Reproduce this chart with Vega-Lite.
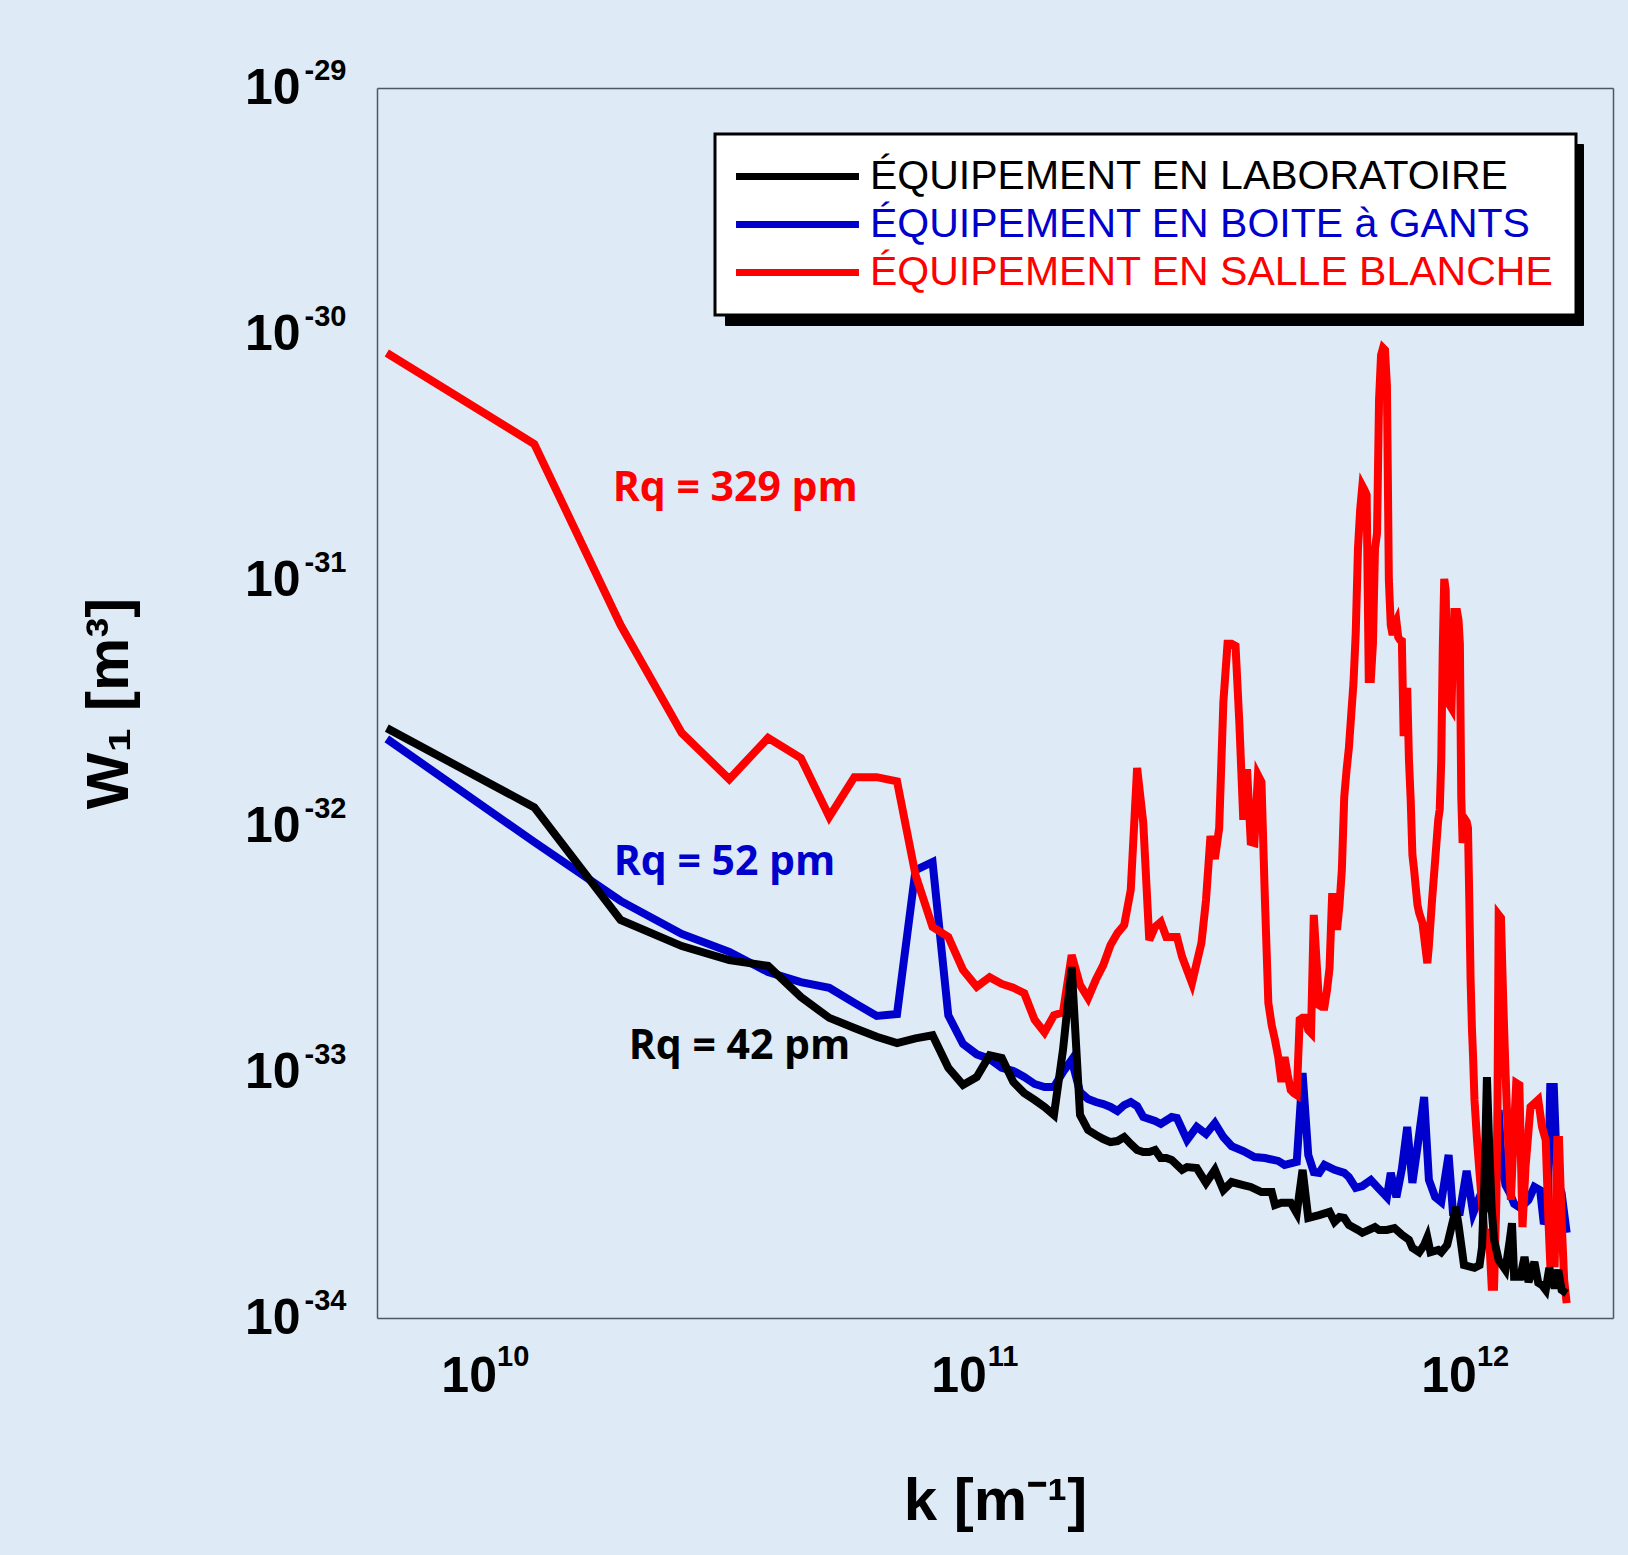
{
"$schema": "https://vega.github.io/schema/vega-lite/v6.json",
"width": 1236,
"height": 1230,
"autosize": {"type": "none"},
"padding": {"left": 377, "top": 88, "right": 15, "bottom": 237},
"background": "#deebf7",
"config": {"view": {"stroke": null}, "axis": {"grid": false}},
"data": {"values": [
{"s":"ÉQUIPEMENT EN BOITE à GANTS","k":6.283e9,"W":2.26e-32},
{"s":"ÉQUIPEMENT EN BOITE à GANTS","k":1.2566e10,"W":8.61e-33},
{"s":"ÉQUIPEMENT EN BOITE à GANTS","k":1.885e10,"W":4.96e-33},
{"s":"ÉQUIPEMENT EN BOITE à GANTS","k":2.513e10,"W":3.64e-33},
{"s":"ÉQUIPEMENT EN BOITE à GANTS","k":3.142e10,"W":3.08e-33},
{"s":"ÉQUIPEMENT EN BOITE à GANTS","k":3.770e10,"W":2.55e-33},
{"s":"ÉQUIPEMENT EN BOITE à GANTS","k":4.398e10,"W":2.32e-33},
{"s":"ÉQUIPEMENT EN BOITE à GANTS","k":5.027e10,"W":2.20e-33},
{"s":"ÉQUIPEMENT EN BOITE à GANTS","k":5.655e10,"W":1.91e-33},
{"s":"ÉQUIPEMENT EN BOITE à GANTS","k":6.283e10,"W":1.69e-33},
{"s":"ÉQUIPEMENT EN BOITE à GANTS","k":6.912e10,"W":1.72e-33},
{"s":"ÉQUIPEMENT EN BOITE à GANTS","k":7.540e10,"W":6.62e-33},
{"s":"ÉQUIPEMENT EN BOITE à GANTS","k":8.168e10,"W":7.14e-33},
{"s":"ÉQUIPEMENT EN BOITE à GANTS","k":8.796e10,"W":1.70e-33},
{"s":"ÉQUIPEMENT EN BOITE à GANTS","k":9.425e10,"W":1.30e-33},
{"s":"ÉQUIPEMENT EN BOITE à GANTS","k":1.0053e11,"W":1.18e-33},
{"s":"ÉQUIPEMENT EN BOITE à GANTS","k":1.0681e11,"W":1.13e-33},
{"s":"ÉQUIPEMENT EN BOITE à GANTS","k":1.131e11,"W":1.04e-33},
{"s":"ÉQUIPEMENT EN BOITE à GANTS","k":1.1938e11,"W":1.01e-33},
{"s":"ÉQUIPEMENT EN BOITE à GANTS","k":1.2566e11,"W":9.54e-34},
{"s":"ÉQUIPEMENT EN BOITE à GANTS","k":1.3195e11,"W":8.94e-34},
{"s":"ÉQUIPEMENT EN BOITE à GANTS","k":1.3823e11,"W":8.69e-34},
{"s":"ÉQUIPEMENT EN BOITE à GANTS","k":1.4451e11,"W":8.69e-34},
{"s":"ÉQUIPEMENT EN BOITE à GANTS","k":1.508e11,"W":1.00e-33},
{"s":"ÉQUIPEMENT EN BOITE à GANTS","k":1.5708e11,"W":1.12e-33},
{"s":"ÉQUIPEMENT EN BOITE à GANTS","k":1.6336e11,"W":8.29e-34},
{"s":"ÉQUIPEMENT EN BOITE à GANTS","k":1.6965e11,"W":7.77e-34},
{"s":"ÉQUIPEMENT EN BOITE à GANTS","k":1.7593e11,"W":7.55e-34},
{"s":"ÉQUIPEMENT EN BOITE à GANTS","k":1.8221e11,"W":7.41e-34},
{"s":"ÉQUIPEMENT EN BOITE à GANTS","k":1.885e11,"W":7.21e-34},
{"s":"ÉQUIPEMENT EN BOITE à GANTS","k":1.9478e11,"W":6.94e-34},
{"s":"ÉQUIPEMENT EN BOITE à GANTS","k":2.0106e11,"W":7.34e-34},
{"s":"ÉQUIPEMENT EN BOITE à GANTS","k":2.0735e11,"W":7.55e-34},
{"s":"ÉQUIPEMENT EN BOITE à GANTS","k":2.1363e11,"W":7.27e-34},
{"s":"ÉQUIPEMENT EN BOITE à GANTS","k":2.1991e11,"W":6.56e-34},
{"s":"ÉQUIPEMENT EN BOITE à GANTS","k":2.3248e11,"W":6.32e-34},
{"s":"ÉQUIPEMENT EN BOITE à GANTS","k":2.3876e11,"W":6.15e-34},
{"s":"ÉQUIPEMENT EN BOITE à GANTS","k":2.5133e11,"W":6.56e-34},
{"s":"ÉQUIPEMENT EN BOITE à GANTS","k":2.5761e11,"W":6.50e-34},
{"s":"ÉQUIPEMENT EN BOITE à GANTS","k":2.7018e11,"W":5.29e-34},
{"s":"ÉQUIPEMENT EN BOITE à GANTS","k":2.8274e11,"W":5.98e-34},
{"s":"ÉQUIPEMENT EN BOITE à GANTS","k":2.9531e11,"W":5.60e-34},
{"s":"ÉQUIPEMENT EN BOITE à GANTS","k":3.0788e11,"W":6.20e-34},
{"s":"ÉQUIPEMENT EN BOITE à GANTS","k":3.2044e11,"W":5.44e-34},
{"s":"ÉQUIPEMENT EN BOITE à GANTS","k":3.3301e11,"W":5.00e-34},
{"s":"ÉQUIPEMENT EN BOITE à GANTS","k":3.5186e11,"W":4.77e-34},
{"s":"ÉQUIPEMENT EN BOITE à GANTS","k":3.7071e11,"W":4.51e-34},
{"s":"ÉQUIPEMENT EN BOITE à GANTS","k":3.8956e11,"W":4.47e-34},
{"s":"ÉQUIPEMENT EN BOITE à GANTS","k":4.1469e11,"W":4.35e-34},
{"s":"ÉQUIPEMENT EN BOITE à GANTS","k":4.2726e11,"W":4.19e-34},
{"s":"ÉQUIPEMENT EN BOITE à GANTS","k":4.5239e11,"W":4.31e-34},
{"s":"ÉQUIPEMENT EN BOITE à GANTS","k":4.6496e11,"W":9.91e-34},
{"s":"ÉQUIPEMENT EN BOITE à GANTS","k":4.7752e11,"W":4.60e-34},
{"s":"ÉQUIPEMENT EN BOITE à GANTS","k":4.9009e11,"W":3.92e-34},
{"s":"ÉQUIPEMENT EN BOITE à GANTS","k":5.0265e11,"W":3.89e-34},
{"s":"ÉQUIPEMENT EN BOITE à GANTS","k":5.1522e11,"W":4.19e-34},
{"s":"ÉQUIPEMENT EN BOITE à GANTS","k":5.4035e11,"W":4.00e-34},
{"s":"ÉQUIPEMENT EN BOITE à GANTS","k":5.6549e11,"W":3.89e-34},
{"s":"ÉQUIPEMENT EN BOITE à GANTS","k":5.7805e11,"W":3.74e-34},
{"s":"ÉQUIPEMENT EN BOITE à GANTS","k":5.969e11,"W":3.38e-34},
{"s":"ÉQUIPEMENT EN BOITE à GANTS","k":6.1575e11,"W":3.44e-34},
{"s":"ÉQUIPEMENT EN BOITE à GANTS","k":6.4089e11,"W":3.64e-34},
{"s":"ÉQUIPEMENT EN BOITE à GANTS","k":6.6602e11,"W":3.35e-34},
{"s":"ÉQUIPEMENT EN BOITE à GANTS","k":6.9115e11,"W":3.10e-34},
{"s":"ÉQUIPEMENT EN BOITE à GANTS","k":7.0372e11,"W":3.89e-34},
{"s":"ÉQUIPEMENT EN BOITE à GANTS","k":7.2257e11,"W":3.10e-34},
{"s":"ÉQUIPEMENT EN BOITE à GANTS","k":7.4142e11,"W":4.03e-34},
{"s":"ÉQUIPEMENT EN BOITE à GANTS","k":7.6027e11,"W":5.98e-34},
{"s":"ÉQUIPEMENT EN BOITE à GANTS","k":7.7912e11,"W":3.54e-34},
{"s":"ÉQUIPEMENT EN BOITE à GANTS","k":7.9797e11,"W":4.96e-34},
{"s":"ÉQUIPEMENT EN BOITE à GANTS","k":8.231e11,"W":7.91e-34},
{"s":"ÉQUIPEMENT EN BOITE à GANTS","k":8.4195e11,"W":3.64e-34},
{"s":"ÉQUIPEMENT EN BOITE à GANTS","k":8.6708e11,"W":3.10e-34},
{"s":"ÉQUIPEMENT EN BOITE à GANTS","k":8.9221e11,"W":2.96e-34},
{"s":"ÉQUIPEMENT EN BOITE à GANTS","k":9.2363e11,"W":4.60e-34},
{"s":"ÉQUIPEMENT EN BOITE à GANTS","k":9.4248e11,"W":2.70e-34},
{"s":"ÉQUIPEMENT EN BOITE à GANTS","k":9.739e11,"W":2.70e-34},
{"s":"ÉQUIPEMENT EN BOITE à GANTS","k":1.00531e12,"W":3.96e-34},
{"s":"ÉQUIPEMENT EN BOITE à GANTS","k":1.03673e12,"W":2.67e-34},
{"s":"ÉQUIPEMENT EN BOITE à GANTS","k":1.06814e12,"W":3.10e-34},
{"s":"ÉQUIPEMENT EN BOITE à GANTS","k":1.09956e12,"W":2.80e-34},
{"s":"ÉQUIPEMENT EN BOITE à GANTS","k":1.13098e12,"W":3.02e-34},
{"s":"ÉQUIPEMENT EN BOITE à GANTS","k":1.15611e12,"W":3.64e-34},
{"s":"ÉQUIPEMENT EN BOITE à GANTS","k":1.16868e12,"W":7.01e-34},
{"s":"ÉQUIPEMENT EN BOITE à GANTS","k":1.18124e12,"W":4.82e-34},
{"s":"ÉQUIPEMENT EN BOITE à GANTS","k":1.20637e12,"W":3.47e-34},
{"s":"ÉQUIPEMENT EN BOITE à GANTS","k":1.23151e12,"W":3.22e-34},
{"s":"ÉQUIPEMENT EN BOITE à GANTS","k":1.25664e12,"W":2.91e-34},
{"s":"ÉQUIPEMENT EN BOITE à GANTS","k":1.29434e12,"W":2.80e-34},
{"s":"ÉQUIPEMENT EN BOITE à GANTS","k":1.3446e12,"W":3.02e-34},
{"s":"ÉQUIPEMENT EN BOITE à GANTS","k":1.3823e12,"W":3.41e-34},
{"s":"ÉQUIPEMENT EN BOITE à GANTS","k":1.42e12,"W":3.31e-34},
{"s":"ÉQUIPEMENT EN BOITE à GANTS","k":1.44514e12,"W":2.41e-34},
{"s":"ÉQUIPEMENT EN BOITE à GANTS","k":1.47027e12,"W":2.62e-34},
{"s":"ÉQUIPEMENT EN BOITE à GANTS","k":1.48912e12,"W":8.69e-34},
{"s":"ÉQUIPEMENT EN BOITE à GANTS","k":1.51425e12,"W":8.69e-34},
{"s":"ÉQUIPEMENT EN BOITE à GANTS","k":1.53938e12,"W":3.64e-34},
{"s":"ÉQUIPEMENT EN BOITE à GANTS","k":1.5708e12,"W":3.22e-34},
{"s":"ÉQUIPEMENT EN BOITE à GANTS","k":1.6085e12,"W":2.22e-34},
{"s":"ÉQUIPEMENT EN SALLE BLANCHE","k":6.283e9,"W":8.37e-31},
{"s":"ÉQUIPEMENT EN SALLE BLANCHE","k":1.2566e10,"W":3.57e-31},
{"s":"ÉQUIPEMENT EN SALLE BLANCHE","k":1.885e10,"W":6.56e-32},
{"s":"ÉQUIPEMENT EN SALLE BLANCHE","k":2.513e10,"W":2.39e-32},
{"s":"ÉQUIPEMENT EN SALLE BLANCHE","k":3.142e10,"W":1.55e-32},
{"s":"ÉQUIPEMENT EN SALLE BLANCHE","k":3.770e10,"W":2.28e-32},
{"s":"ÉQUIPEMENT EN SALLE BLANCHE","k":4.398e10,"W":1.89e-32},
{"s":"ÉQUIPEMENT EN SALLE BLANCHE","k":5.027e10,"W":1.09e-32},
{"s":"ÉQUIPEMENT EN SALLE BLANCHE","k":5.655e10,"W":1.58e-32},
{"s":"ÉQUIPEMENT EN SALLE BLANCHE","k":6.283e10,"W":1.58e-32},
{"s":"ÉQUIPEMENT EN SALLE BLANCHE","k":6.912e10,"W":1.52e-32},
{"s":"ÉQUIPEMENT EN SALLE BLANCHE","k":7.540e10,"W":6.32e-33},
{"s":"ÉQUIPEMENT EN SALLE BLANCHE","k":8.168e10,"W":3.89e-33},
{"s":"ÉQUIPEMENT EN SALLE BLANCHE","k":8.796e10,"W":3.54e-33},
{"s":"ÉQUIPEMENT EN SALLE BLANCHE","k":9.425e10,"W":2.60e-33},
{"s":"ÉQUIPEMENT EN SALLE BLANCHE","k":1.0053e11,"W":2.22e-33},
{"s":"ÉQUIPEMENT EN SALLE BLANCHE","k":1.0681e11,"W":2.43e-33},
{"s":"ÉQUIPEMENT EN SALLE BLANCHE","k":1.131e11,"W":2.28e-33},
{"s":"ÉQUIPEMENT EN SALLE BLANCHE","k":1.1938e11,"W":2.20e-33},
{"s":"ÉQUIPEMENT EN SALLE BLANCHE","k":1.2566e11,"W":2.09e-33},
{"s":"ÉQUIPEMENT EN SALLE BLANCHE","k":1.3195e11,"W":1.63e-33},
{"s":"ÉQUIPEMENT EN SALLE BLANCHE","k":1.3823e11,"W":1.45e-33},
{"s":"ÉQUIPEMENT EN SALLE BLANCHE","k":1.4451e11,"W":1.70e-33},
{"s":"ÉQUIPEMENT EN SALLE BLANCHE","k":1.508e11,"W":1.75e-33},
{"s":"ÉQUIPEMENT EN SALLE BLANCHE","k":1.5708e11,"W":2.99e-33},
{"s":"ÉQUIPEMENT EN SALLE BLANCHE","k":1.6336e11,"W":2.26e-33},
{"s":"ÉQUIPEMENT EN SALLE BLANCHE","k":1.6965e11,"W":2.00e-33},
{"s":"ÉQUIPEMENT EN SALLE BLANCHE","k":1.7593e11,"W":2.37e-33},
{"s":"ÉQUIPEMENT EN SALLE BLANCHE","k":1.8221e11,"W":2.72e-33},
{"s":"ÉQUIPEMENT EN SALLE BLANCHE","k":1.885e11,"W":3.28e-33},
{"s":"ÉQUIPEMENT EN SALLE BLANCHE","k":1.9478e11,"W":3.67e-33},
{"s":"ÉQUIPEMENT EN SALLE BLANCHE","k":2.0106e11,"W":3.96e-33},
{"s":"ÉQUIPEMENT EN SALLE BLANCHE","k":2.0735e11,"W":5.50e-33},
{"s":"ÉQUIPEMENT EN SALLE BLANCHE","k":2.1363e11,"W":1.72e-32},
{"s":"ÉQUIPEMENT EN SALLE BLANCHE","k":2.1991e11,"W":1.03e-32},
{"s":"ÉQUIPEMENT EN SALLE BLANCHE","k":2.2619e11,"W":3.44e-33},
{"s":"ÉQUIPEMENT EN SALLE BLANCHE","k":2.3248e11,"W":3.89e-33},
{"s":"ÉQUIPEMENT EN SALLE BLANCHE","k":2.3876e11,"W":4.07e-33},
{"s":"ÉQUIPEMENT EN SALLE BLANCHE","k":2.4504e11,"W":3.54e-33},
{"s":"ÉQUIPEMENT EN SALLE BLANCHE","k":2.5133e11,"W":3.54e-33},
{"s":"ÉQUIPEMENT EN SALLE BLANCHE","k":2.5761e11,"W":3.54e-33},
{"s":"ÉQUIPEMENT EN SALLE BLANCHE","k":2.6389e11,"W":2.94e-33},
{"s":"ÉQUIPEMENT EN SALLE BLANCHE","k":2.7646e11,"W":2.30e-33},
{"s":"ÉQUIPEMENT EN SALLE BLANCHE","k":2.8903e11,"W":3.35e-33},
{"s":"ÉQUIPEMENT EN SALLE BLANCHE","k":2.9531e11,"W":5.00e-33},
{"s":"ÉQUIPEMENT EN SALLE BLANCHE","k":3.0159e11,"W":9.11e-33},
{"s":"ÉQUIPEMENT EN SALLE BLANCHE","k":3.0788e11,"W":7.34e-33},
{"s":"ÉQUIPEMENT EN SALLE BLANCHE","k":3.1416e11,"W":9.81e-33},
{"s":"ÉQUIPEMENT EN SALLE BLANCHE","k":3.2044e11,"W":3.19e-32},
{"s":"ÉQUIPEMENT EN SALLE BLANCHE","k":3.2673e11,"W":5.50e-32},
{"s":"ÉQUIPEMENT EN SALLE BLANCHE","k":3.3301e11,"W":5.50e-32},
{"s":"ÉQUIPEMENT EN SALLE BLANCHE","k":3.3929e11,"W":5.39e-32},
{"s":"ÉQUIPEMENT EN SALLE BLANCHE","k":3.4558e11,"W":2.57e-32},
{"s":"ÉQUIPEMENT EN SALLE BLANCHE","k":3.5186e11,"W":1.06e-32},
{"s":"ÉQUIPEMENT EN SALLE BLANCHE","k":3.5814e11,"W":1.70e-32},
{"s":"ÉQUIPEMENT EN SALLE BLANCHE","k":3.6442e11,"W":8.61e-33},
{"s":"ÉQUIPEMENT EN SALLE BLANCHE","k":3.7071e11,"W":8.53e-33},
{"s":"ÉQUIPEMENT EN SALLE BLANCHE","k":3.7699e11,"W":1.61e-32},
{"s":"ÉQUIPEMENT EN SALLE BLANCHE","k":3.8327e11,"W":1.51e-32},
{"s":"ÉQUIPEMENT EN SALLE BLANCHE","k":3.8956e11,"W":5.00e-33},
{"s":"ÉQUIPEMENT EN SALLE BLANCHE","k":3.9584e11,"W":1.91e-33},
{"s":"ÉQUIPEMENT EN SALLE BLANCHE","k":4.0212e11,"W":1.55e-33},
{"s":"ÉQUIPEMENT EN SALLE BLANCHE","k":4.0841e11,"W":1.35e-33},
{"s":"ÉQUIPEMENT EN SALLE BLANCHE","k":4.1469e11,"W":1.15e-33},
{"s":"ÉQUIPEMENT EN SALLE BLANCHE","k":4.2097e11,"W":9.11e-34},
{"s":"ÉQUIPEMENT EN SALLE BLANCHE","k":4.2726e11,"W":1.15e-33},
{"s":"ÉQUIPEMENT EN SALLE BLANCHE","k":4.3354e11,"W":9.72e-34},
{"s":"ÉQUIPEMENT EN SALLE BLANCHE","k":4.3982e11,"W":8.45e-34},
{"s":"ÉQUIPEMENT EN SALLE BLANCHE","k":4.4611e11,"W":8.21e-34},
{"s":"ÉQUIPEMENT EN SALLE BLANCHE","k":4.5239e11,"W":8.06e-34},
{"s":"ÉQUIPEMENT EN SALLE BLANCHE","k":4.5867e11,"W":1.63e-33},
{"s":"ÉQUIPEMENT EN SALLE BLANCHE","k":4.6496e11,"W":1.66e-33},
{"s":"ÉQUIPEMENT EN SALLE BLANCHE","k":4.7124e11,"W":1.66e-33},
{"s":"ÉQUIPEMENT EN SALLE BLANCHE","k":4.7752e11,"W":1.48e-33},
{"s":"ÉQUIPEMENT EN SALLE BLANCHE","k":4.8381e11,"W":1.44e-33},
{"s":"ÉQUIPEMENT EN SALLE BLANCHE","k":4.9009e11,"W":4.35e-33},
{"s":"ÉQUIPEMENT EN SALLE BLANCHE","k":5.0265e11,"W":1.87e-33},
{"s":"ÉQUIPEMENT EN SALLE BLANCHE","k":5.0894e11,"W":1.84e-33},
{"s":"ÉQUIPEMENT EN SALLE BLANCHE","k":5.1522e11,"W":1.84e-33},
{"s":"ÉQUIPEMENT EN SALLE BLANCHE","k":5.215e11,"W":2.15e-33},
{"s":"ÉQUIPEMENT EN SALLE BLANCHE","k":5.2779e11,"W":2.65e-33},
{"s":"ÉQUIPEMENT EN SALLE BLANCHE","k":5.3407e11,"W":5.14e-33},
{"s":"ÉQUIPEMENT EN SALLE BLANCHE","k":5.4035e11,"W":5.14e-33},
{"s":"ÉQUIPEMENT EN SALLE BLANCHE","k":5.4664e11,"W":3.78e-33},
{"s":"ÉQUIPEMENT EN SALLE BLANCHE","k":5.5292e11,"W":4.77e-33},
{"s":"ÉQUIPEMENT EN SALLE BLANCHE","k":5.592e11,"W":6.62e-33},
{"s":"ÉQUIPEMENT EN SALLE BLANCHE","k":5.6549e11,"W":1.31e-32},
{"s":"ÉQUIPEMENT EN SALLE BLANCHE","k":5.7177e11,"W":1.69e-32},
{"s":"ÉQUIPEMENT EN SALLE BLANCHE","k":5.7805e11,"W":2.08e-32},
{"s":"ÉQUIPEMENT EN SALLE BLANCHE","k":5.8434e11,"W":2.83e-32},
{"s":"ÉQUIPEMENT EN SALLE BLANCHE","k":5.9062e11,"W":3.81e-32},
{"s":"ÉQUIPEMENT EN SALLE BLANCHE","k":5.969e11,"W":6.09e-32},
{"s":"ÉQUIPEMENT EN SALLE BLANCHE","k":6.0319e11,"W":1.34e-31},
{"s":"ÉQUIPEMENT EN SALLE BLANCHE","k":6.0947e11,"W":1.93e-31},
{"s":"ÉQUIPEMENT EN SALLE BLANCHE","k":6.1575e11,"W":2.41e-31},
{"s":"ÉQUIPEMENT EN SALLE BLANCHE","k":6.2204e11,"W":2.32e-31},
{"s":"ÉQUIPEMENT EN SALLE BLANCHE","k":6.2832e11,"W":2.22e-31},
{"s":"ÉQUIPEMENT EN SALLE BLANCHE","k":6.346e11,"W":3.96e-32},
{"s":"ÉQUIPEMENT EN SALLE BLANCHE","k":6.4089e11,"W":3.96e-32},
{"s":"ÉQUIPEMENT EN SALLE BLANCHE","k":6.4717e11,"W":5.50e-32},
{"s":"ÉQUIPEMENT EN SALLE BLANCHE","k":6.5345e11,"W":1.34e-31},
{"s":"ÉQUIPEMENT EN SALLE BLANCHE","k":6.5974e11,"W":1.55e-31},
{"s":"ÉQUIPEMENT EN SALLE BLANCHE","k":6.6602e11,"W":5.39e-31},
{"s":"ÉQUIPEMENT EN SALLE BLANCHE","k":6.723e11,"W":8.21e-31},
{"s":"ÉQUIPEMENT EN SALLE BLANCHE","k":6.7859e11,"W":8.77e-31},
{"s":"ÉQUIPEMENT EN SALLE BLANCHE","k":6.8487e11,"W":8.61e-31},
{"s":"ÉQUIPEMENT EN SALLE BLANCHE","k":6.9115e11,"W":6.15e-31},
{"s":"ÉQUIPEMENT EN SALLE BLANCHE","k":6.9744e11,"W":1.00e-31},
{"s":"ÉQUIPEMENT EN SALLE BLANCHE","k":7.0372e11,"W":6.56e-32},
{"s":"ÉQUIPEMENT EN SALLE BLANCHE","k":7.1e11,"W":5.98e-32},
{"s":"ÉQUIPEMENT EN SALLE BLANCHE","k":7.1629e11,"W":6.56e-32},
{"s":"ÉQUIPEMENT EN SALLE BLANCHE","k":7.2257e11,"W":6.81e-32},
{"s":"ÉQUIPEMENT EN SALLE BLANCHE","k":7.2885e11,"W":5.86e-32},
{"s":"ÉQUIPEMENT EN SALLE BLANCHE","k":7.3513e11,"W":5.70e-32},
{"s":"ÉQUIPEMENT EN SALLE BLANCHE","k":7.4142e11,"W":5.65e-32},
{"s":"ÉQUIPEMENT EN SALLE BLANCHE","k":7.477e11,"W":2.32e-32},
{"s":"ÉQUIPEMENT EN SALLE BLANCHE","k":7.5398e11,"W":3.25e-32},
{"s":"ÉQUIPEMENT EN SALLE BLANCHE","k":7.6027e11,"W":3.64e-32},
{"s":"ÉQUIPEMENT EN SALLE BLANCHE","k":7.6655e11,"W":1.85e-32},
{"s":"ÉQUIPEMENT EN SALLE BLANCHE","k":7.7283e11,"W":1.28e-32},
{"s":"ÉQUIPEMENT EN SALLE BLANCHE","k":7.7912e11,"W":7.62e-33},
{"s":"ÉQUIPEMENT EN SALLE BLANCHE","k":7.854e11,"W":6.62e-33},
{"s":"ÉQUIPEMENT EN SALLE BLANCHE","k":7.9168e11,"W":5.60e-33},
{"s":"ÉQUIPEMENT EN SALLE BLANCHE","k":7.9797e11,"W":4.77e-33},
{"s":"ÉQUIPEMENT EN SALLE BLANCHE","k":8.0425e11,"W":4.43e-33},
{"s":"ÉQUIPEMENT EN SALLE BLANCHE","k":8.1682e11,"W":4.03e-33},
{"s":"ÉQUIPEMENT EN SALLE BLANCHE","k":8.2938e11,"W":3.13e-33},
{"s":"ÉQUIPEMENT EN SALLE BLANCHE","k":8.3567e11,"W":2.77e-33},
{"s":"ÉQUIPEMENT EN SALLE BLANCHE","k":8.4195e11,"W":3.28e-33},
{"s":"ÉQUIPEMENT EN SALLE BLANCHE","k":8.5452e11,"W":5.00e-33},
{"s":"ÉQUIPEMENT EN SALLE BLANCHE","k":8.6708e11,"W":7.27e-33},
{"s":"ÉQUIPEMENT EN SALLE BLANCHE","k":8.7965e11,"W":1.06e-32},
{"s":"ÉQUIPEMENT EN SALLE BLANCHE","k":8.8593e11,"W":1.17e-32},
{"s":"ÉQUIPEMENT EN SALLE BLANCHE","k":8.9221e11,"W":1.85e-32},
{"s":"ÉQUIPEMENT EN SALLE BLANCHE","k":8.985e11,"W":5.19e-32},
{"s":"ÉQUIPEMENT EN SALLE BLANCHE","k":9.0478e11,"W":1.01e-31},
{"s":"ÉQUIPEMENT EN SALLE BLANCHE","k":9.1106e11,"W":9.11e-32},
{"s":"ÉQUIPEMENT EN SALLE BLANCHE","k":9.1735e11,"W":3.31e-32},
{"s":"ÉQUIPEMENT EN SALLE BLANCHE","k":9.2363e11,"W":3.16e-32},
{"s":"ÉQUIPEMENT EN SALLE BLANCHE","k":9.362e11,"W":3.02e-32},
{"s":"ÉQUIPEMENT EN SALLE BLANCHE","k":9.4248e11,"W":5.10e-32},
{"s":"ÉQUIPEMENT EN SALLE BLANCHE","k":9.4876e11,"W":7.41e-32},
{"s":"ÉQUIPEMENT EN SALLE BLANCHE","k":9.5505e11,"W":7.41e-32},
{"s":"ÉQUIPEMENT EN SALLE BLANCHE","k":9.6133e11,"W":7.41e-32},
{"s":"ÉQUIPEMENT EN SALLE BLANCHE","k":9.6761e11,"W":6.88e-32},
{"s":"ÉQUIPEMENT EN SALLE BLANCHE","k":9.739e11,"W":5.50e-32},
{"s":"ÉQUIPEMENT EN SALLE BLANCHE","k":9.8018e11,"W":1.31e-32},
{"s":"ÉQUIPEMENT EN SALLE BLANCHE","k":9.8646e11,"W":8.53e-33},
{"s":"ÉQUIPEMENT EN SALLE BLANCHE","k":9.9275e11,"W":9.63e-33},
{"s":"ÉQUIPEMENT EN SALLE BLANCHE","k":9.9903e11,"W":1.06e-32},
{"s":"ÉQUIPEMENT EN SALLE BLANCHE","k":1.00531e12,"W":1.04e-32},
{"s":"ÉQUIPEMENT EN SALLE BLANCHE","k":1.0116e12,"W":9.81e-33},
{"s":"ÉQUIPEMENT EN SALLE BLANCHE","k":1.01788e12,"W":5.00e-33},
{"s":"ÉQUIPEMENT EN SALLE BLANCHE","k":1.02416e12,"W":2.37e-33},
{"s":"ÉQUIPEMENT EN SALLE BLANCHE","k":1.03044e12,"W":1.52e-33},
{"s":"ÉQUIPEMENT EN SALLE BLANCHE","k":1.03673e12,"W":1.12e-33},
{"s":"ÉQUIPEMENT EN SALLE BLANCHE","k":1.04301e12,"W":7.70e-34},
{"s":"ÉQUIPEMENT EN SALLE BLANCHE","k":1.05558e12,"W":5.29e-34},
{"s":"ÉQUIPEMENT EN SALLE BLANCHE","k":1.06814e12,"W":3.89e-34},
{"s":"ÉQUIPEMENT EN SALLE BLANCHE","k":1.08071e12,"W":2.88e-34},
{"s":"ÉQUIPEMENT EN SALLE BLANCHE","k":1.09328e12,"W":2.22e-34},
{"s":"ÉQUIPEMENT EN SALLE BLANCHE","k":1.10584e12,"W":2.22e-34},
{"s":"ÉQUIPEMENT EN SALLE BLANCHE","k":1.11841e12,"W":2.08e-34},
{"s":"ÉQUIPEMENT EN SALLE BLANCHE","k":1.13098e12,"W":1.34e-34},
{"s":"ÉQUIPEMENT EN SALLE BLANCHE","k":1.14354e12,"W":1.34e-34},
{"s":"ÉQUIPEMENT EN SALLE BLANCHE","k":1.15611e12,"W":3.02e-34},
{"s":"ÉQUIPEMENT EN SALLE BLANCHE","k":1.16239e12,"W":7.70e-34},
{"s":"ÉQUIPEMENT EN SALLE BLANCHE","k":1.16868e12,"W":4.35e-33},
{"s":"ÉQUIPEMENT EN SALLE BLANCHE","k":1.18124e12,"W":4.23e-33},
{"s":"ÉQUIPEMENT EN SALLE BLANCHE","k":1.19381e12,"W":1.96e-33},
{"s":"ÉQUIPEMENT EN SALLE BLANCHE","k":1.20637e12,"W":1.02e-33},
{"s":"ÉQUIPEMENT EN SALLE BLANCHE","k":1.21894e12,"W":5.81e-34},
{"s":"ÉQUIPEMENT EN SALLE BLANCHE","k":1.23779e12,"W":3.02e-34},
{"s":"ÉQUIPEMENT EN SALLE BLANCHE","k":1.25036e12,"W":4.82e-34},
{"s":"ÉQUIPEMENT EN SALLE BLANCHE","k":1.26921e12,"W":9.02e-34},
{"s":"ÉQUIPEMENT EN SALLE BLANCHE","k":1.28806e12,"W":8.86e-34},
{"s":"ÉQUIPEMENT EN SALLE BLANCHE","k":1.30691e12,"W":2.34e-34},
{"s":"ÉQUIPEMENT EN SALLE BLANCHE","k":1.32576e12,"W":4.11e-34},
{"s":"ÉQUIPEMENT EN SALLE BLANCHE","k":1.35717e12,"W":7.21e-34},
{"s":"ÉQUIPEMENT EN SALLE BLANCHE","k":1.40744e12,"W":7.70e-34},
{"s":"ÉQUIPEMENT EN SALLE BLANCHE","k":1.43257e12,"W":5.98e-34},
{"s":"ÉQUIPEMENT EN SALLE BLANCHE","k":1.4577e12,"W":5.29e-34},
{"s":"ÉQUIPEMENT EN SALLE BLANCHE","k":1.47655e12,"W":2.50e-34},
{"s":"ÉQUIPEMENT EN SALLE BLANCHE","k":1.48912e12,"W":1.67e-34},
{"s":"ÉQUIPEMENT EN SALLE BLANCHE","k":1.52053e12,"W":1.67e-34},
{"s":"ÉQUIPEMENT EN SALLE BLANCHE","k":1.53938e12,"W":5.29e-34},
{"s":"ÉQUIPEMENT EN SALLE BLANCHE","k":1.55195e12,"W":5.29e-34},
{"s":"ÉQUIPEMENT EN SALLE BLANCHE","k":1.5708e12,"W":2.50e-34},
{"s":"ÉQUIPEMENT EN SALLE BLANCHE","k":1.58965e12,"W":1.43e-34},
{"s":"ÉQUIPEMENT EN SALLE BLANCHE","k":1.6085e12,"W":1.15e-34},
{"s":"ÉQUIPEMENT EN LABORATOIRE","k":6.283e9,"W":2.50e-32},
{"s":"ÉQUIPEMENT EN LABORATOIRE","k":1.2566e10,"W":1.19e-32},
{"s":"ÉQUIPEMENT EN LABORATOIRE","k":1.885e10,"W":4.15e-33},
{"s":"ÉQUIPEMENT EN LABORATOIRE","k":2.513e10,"W":3.25e-33},
{"s":"ÉQUIPEMENT EN LABORATOIRE","k":3.142e10,"W":2.85e-33},
{"s":"ÉQUIPEMENT EN LABORATOIRE","k":3.770e10,"W":2.70e-33},
{"s":"ÉQUIPEMENT EN LABORATOIRE","k":4.398e10,"W":2.02e-33},
{"s":"ÉQUIPEMENT EN LABORATOIRE","k":5.027e10,"W":1.66e-33},
{"s":"ÉQUIPEMENT EN LABORATOIRE","k":5.655e10,"W":1.51e-33},
{"s":"ÉQUIPEMENT EN LABORATOIRE","k":6.283e10,"W":1.39e-33},
{"s":"ÉQUIPEMENT EN LABORATOIRE","k":6.912e10,"W":1.31e-33},
{"s":"ÉQUIPEMENT EN LABORATOIRE","k":7.540e10,"W":1.37e-33},
{"s":"ÉQUIPEMENT EN LABORATOIRE","k":8.168e10,"W":1.41e-33},
{"s":"ÉQUIPEMENT EN LABORATOIRE","k":8.796e10,"W":1.04e-33},
{"s":"ÉQUIPEMENT EN LABORATOIRE","k":9.425e10,"W":8.86e-34},
{"s":"ÉQUIPEMENT EN LABORATOIRE","k":1.0053e11,"W":9.54e-34},
{"s":"ÉQUIPEMENT EN LABORATOIRE","k":1.0681e11,"W":1.17e-33},
{"s":"ÉQUIPEMENT EN LABORATOIRE","k":1.131e11,"W":1.14e-33},
{"s":"ÉQUIPEMENT EN LABORATOIRE","k":1.1938e11,"W":9.11e-34},
{"s":"ÉQUIPEMENT EN LABORATOIRE","k":1.2566e11,"W":8.21e-34},
{"s":"ÉQUIPEMENT EN LABORATOIRE","k":1.3195e11,"W":7.70e-34},
{"s":"ÉQUIPEMENT EN LABORATOIRE","k":1.3823e11,"W":7.21e-34},
{"s":"ÉQUIPEMENT EN LABORATOIRE","k":1.4451e11,"W":6.69e-34},
{"s":"ÉQUIPEMENT EN LABORATOIRE","k":1.508e11,"W":1.23e-33},
{"s":"ÉQUIPEMENT EN LABORATOIRE","k":1.5708e11,"W":2.67e-33},
{"s":"ÉQUIPEMENT EN LABORATOIRE","k":1.6336e11,"W":6.69e-34},
{"s":"ÉQUIPEMENT EN LABORATOIRE","k":1.6965e11,"W":5.81e-34},
{"s":"ÉQUIPEMENT EN LABORATOIRE","k":1.7593e11,"W":5.55e-34},
{"s":"ÉQUIPEMENT EN LABORATOIRE","k":1.8221e11,"W":5.34e-34},
{"s":"ÉQUIPEMENT EN LABORATOIRE","k":1.885e11,"W":5.19e-34},
{"s":"ÉQUIPEMENT EN LABORATOIRE","k":1.9478e11,"W":5.24e-34},
{"s":"ÉQUIPEMENT EN LABORATOIRE","k":2.0106e11,"W":5.44e-34},
{"s":"ÉQUIPEMENT EN LABORATOIRE","k":2.0735e11,"W":5.10e-34},
{"s":"ÉQUIPEMENT EN LABORATOIRE","k":2.1363e11,"W":4.82e-34},
{"s":"ÉQUIPEMENT EN LABORATOIRE","k":2.1991e11,"W":4.73e-34},
{"s":"ÉQUIPEMENT EN LABORATOIRE","k":2.2619e11,"W":4.73e-34},
{"s":"ÉQUIPEMENT EN LABORATOIRE","k":2.3248e11,"W":4.82e-34},
{"s":"ÉQUIPEMENT EN LABORATOIRE","k":2.3876e11,"W":4.47e-34},
{"s":"ÉQUIPEMENT EN LABORATOIRE","k":2.4504e11,"W":4.47e-34},
{"s":"ÉQUIPEMENT EN LABORATOIRE","k":2.5133e11,"W":4.39e-34},
{"s":"ÉQUIPEMENT EN LABORATOIRE","k":2.6389e11,"W":4.00e-34},
{"s":"ÉQUIPEMENT EN LABORATOIRE","k":2.7018e11,"W":4.11e-34},
{"s":"ÉQUIPEMENT EN LABORATOIRE","k":2.8274e11,"W":4.07e-34},
{"s":"ÉQUIPEMENT EN LABORATOIRE","k":2.9531e11,"W":3.54e-34},
{"s":"ÉQUIPEMENT EN LABORATOIRE","k":3.0788e11,"W":4.00e-34},
{"s":"ÉQUIPEMENT EN LABORATOIRE","k":3.2044e11,"W":3.31e-34},
{"s":"ÉQUIPEMENT EN LABORATOIRE","k":3.3301e11,"W":3.57e-34},
{"s":"ÉQUIPEMENT EN LABORATOIRE","k":3.5186e11,"W":3.47e-34},
{"s":"ÉQUIPEMENT EN LABORATOIRE","k":3.6442e11,"W":3.41e-34},
{"s":"ÉQUIPEMENT EN LABORATOIRE","k":3.8327e11,"W":3.25e-34},
{"s":"ÉQUIPEMENT EN LABORATOIRE","k":4.0212e11,"W":3.25e-34},
{"s":"ÉQUIPEMENT EN LABORATOIRE","k":4.0841e11,"W":2.88e-34},
{"s":"ÉQUIPEMENT EN LABORATOIRE","k":4.2097e11,"W":2.94e-34},
{"s":"ÉQUIPEMENT EN LABORATOIRE","k":4.3982e11,"W":2.94e-34},
{"s":"ÉQUIPEMENT EN LABORATOIRE","k":4.5239e11,"W":2.67e-34},
{"s":"ÉQUIPEMENT EN LABORATOIRE","k":4.6496e11,"W":4.00e-34},
{"s":"ÉQUIPEMENT EN LABORATOIRE","k":4.7752e11,"W":2.55e-34},
{"s":"ÉQUIPEMENT EN LABORATOIRE","k":5.0265e11,"W":2.62e-34},
{"s":"ÉQUIPEMENT EN LABORATOIRE","k":5.2779e11,"W":2.70e-34},
{"s":"ÉQUIPEMENT EN LABORATOIRE","k":5.4035e11,"W":2.46e-34},
{"s":"ÉQUIPEMENT EN LABORATOIRE","k":5.5292e11,"W":2.57e-34},
{"s":"ÉQUIPEMENT EN LABORATOIRE","k":5.6549e11,"W":2.55e-34},
{"s":"ÉQUIPEMENT EN LABORATOIRE","k":5.7805e11,"W":2.39e-34},
{"s":"ÉQUIPEMENT EN LABORATOIRE","k":6.0319e11,"W":2.28e-34},
{"s":"ÉQUIPEMENT EN LABORATOIRE","k":6.1575e11,"W":2.22e-34},
{"s":"ÉQUIPEMENT EN LABORATOIRE","k":6.5345e11,"W":2.34e-34},
{"s":"ÉQUIPEMENT EN LABORATOIRE","k":6.6602e11,"W":2.28e-34},
{"s":"ÉQUIPEMENT EN LABORATOIRE","k":6.9115e11,"W":2.28e-34},
{"s":"ÉQUIPEMENT EN LABORATOIRE","k":7.1629e11,"W":2.32e-34},
{"s":"ÉQUIPEMENT EN LABORATOIRE","k":7.4142e11,"W":2.18e-34},
{"s":"ÉQUIPEMENT EN LABORATOIRE","k":7.6655e11,"W":2.08e-34},
{"s":"ÉQUIPEMENT EN LABORATOIRE","k":7.7912e11,"W":1.93e-34},
{"s":"ÉQUIPEMENT EN LABORATOIRE","k":8.0425e11,"W":1.85e-34},
{"s":"ÉQUIPEMENT EN LABORATOIRE","k":8.231e11,"W":1.98e-34},
{"s":"ÉQUIPEMENT EN LABORATOIRE","k":8.3567e11,"W":2.13e-34},
{"s":"ÉQUIPEMENT EN LABORATOIRE","k":8.4823e11,"W":1.85e-34},
{"s":"ÉQUIPEMENT EN LABORATOIRE","k":8.7965e11,"W":1.89e-34},
{"s":"ÉQUIPEMENT EN LABORATOIRE","k":8.9221e11,"W":1.85e-34},
{"s":"ÉQUIPEMENT EN LABORATOIRE","k":9.1735e11,"W":1.98e-34},
{"s":"ÉQUIPEMENT EN LABORATOIRE","k":9.2991e11,"W":2.22e-34},
{"s":"ÉQUIPEMENT EN LABORATOIRE","k":9.4876e11,"W":2.62e-34},
{"s":"ÉQUIPEMENT EN LABORATOIRE","k":9.5505e11,"W":2.83e-34},
{"s":"ÉQUIPEMENT EN LABORATOIRE","k":9.6761e11,"W":2.39e-34},
{"s":"ÉQUIPEMENT EN LABORATOIRE","k":9.8018e11,"W":1.98e-34},
{"s":"ÉQUIPEMENT EN LABORATOIRE","k":9.9275e11,"W":1.64e-34},
{"s":"ÉQUIPEMENT EN LABORATOIRE","k":1.04301e12,"W":1.60e-34},
{"s":"ÉQUIPEMENT EN LABORATOIRE","k":1.06814e12,"W":1.64e-34},
{"s":"ÉQUIPEMENT EN LABORATOIRE","k":1.08071e12,"W":1.94e-34},
{"s":"ÉQUIPEMENT EN LABORATOIRE","k":1.09328e12,"W":3.64e-34},
{"s":"ÉQUIPEMENT EN LABORATOIRE","k":1.10584e12,"W":9.54e-34},
{"s":"ÉQUIPEMENT EN LABORATOIRE","k":1.11841e12,"W":4.82e-34},
{"s":"ÉQUIPEMENT EN LABORATOIRE","k":1.13098e12,"W":2.75e-34},
{"s":"ÉQUIPEMENT EN LABORATOIRE","k":1.14354e12,"W":2.08e-34},
{"s":"ÉQUIPEMENT EN LABORATOIRE","k":1.16868e12,"W":1.72e-34},
{"s":"ÉQUIPEMENT EN LABORATOIRE","k":1.20637e12,"W":1.57e-34},
{"s":"ÉQUIPEMENT EN LABORATOIRE","k":1.23151e12,"W":2.08e-34},
{"s":"ÉQUIPEMENT EN LABORATOIRE","k":1.24407e12,"W":2.43e-34},
{"s":"ÉQUIPEMENT EN LABORATOIRE","k":1.25664e12,"W":1.47e-34},
{"s":"ÉQUIPEMENT EN LABORATOIRE","k":1.29434e12,"W":1.47e-34},
{"s":"ÉQUIPEMENT EN LABORATOIRE","k":1.31947e12,"W":1.77e-34},
{"s":"ÉQUIPEMENT EN LABORATOIRE","k":1.3446e12,"W":1.40e-34},
{"s":"ÉQUIPEMENT EN LABORATOIRE","k":1.3823e12,"W":1.69e-34},
{"s":"ÉQUIPEMENT EN LABORATOIRE","k":1.40744e12,"W":1.39e-34},
{"s":"ÉQUIPEMENT EN LABORATOIRE","k":1.43257e12,"W":1.36e-34},
{"s":"ÉQUIPEMENT EN LABORATOIRE","k":1.4577e12,"W":1.30e-34},
{"s":"ÉQUIPEMENT EN LABORATOIRE","k":1.48284e12,"W":1.60e-34},
{"s":"ÉQUIPEMENT EN LABORATOIRE","k":1.52053e12,"W":1.32e-34},
{"s":"ÉQUIPEMENT EN LABORATOIRE","k":1.54567e12,"W":1.57e-34},
{"s":"ÉQUIPEMENT EN LABORATOIRE","k":1.5708e12,"W":1.30e-34},
{"s":"ÉQUIPEMENT EN LABORATOIRE","k":1.6085e12,"W":1.26e-34}
]},
"resolve": {"axis": {"x": "independent", "y": "independent"}},
"layer": [
{
"mark": {"type": "point", "opacity": 0},
"encoding": {
"x": {"field": "k", "type": "quantitative", "scale": {"type": "log", "domain": [6e9, 2e12]},
 "axis": {"orient": "top", "values": [6e9,7e9,8e9,9e9,1e10,2e10,3e10,4e10,5e10,6e10,7e10,8e10,9e10,1e11,2e11,3e11,4e11,5e11,6e11,7e11,8e11,9e11,1e12,2e12],
  "labels": false, "title": null, "grid": false, "domainColor": "#4d5866", "domainWidth": 1.5, "tickColor": "#4d5866", "tickWidth": 1.5, "tickSize": 0,
  "encode": {"ticks": {"update": {"y2": {"signal": "abs(log(datum.value)/LN10 - round(log(datum.value)/LN10)) < 0.01 ? 20 : 11"}}}}}},
"y": {"field": "W", "type": "quantitative", "scale": {"type": "log", "domain": [1e-34, 1e-29]},
 "axis": {"orient": "right", "values": [1e-34,2e-34,3e-34,4e-34,5e-34,6e-34,7e-34,8e-34,9e-34,1e-33,2e-33,3e-33,4e-33,5e-33,6e-33,7e-33,8e-33,9e-33,1e-32,2e-32,3e-32,4e-32,5e-32,6e-32,7e-32,8e-32,9e-32,1e-31,2e-31,3e-31,4e-31,5e-31,6e-31,7e-31,8e-31,9e-31,1e-30,2e-30,3e-30,4e-30,5e-30,6e-30,7e-30,8e-30,9e-30,1e-29],
  "labels": false, "title": null, "grid": false, "domainColor": "#4d5866", "domainWidth": 1.5, "tickColor": "#4d5866", "tickWidth": 1.5, "tickSize": 0,
  "encode": {"ticks": {"update": {"x2": {"signal": "abs(log(datum.value)/LN10 - round(log(datum.value)/LN10)) < 0.01 ? -20 : -11"}}}}}},
"shape": {"field": "s", "type": "nominal",
 "scale": {"domain": ["ÉQUIPEMENT EN SALLE BLANCHE", "ÉQUIPEMENT EN BOITE à GANTS", "ÉQUIPEMENT EN LABORATOIRE"], "range": ["M-6,0H6", "M-6,0H6", "M-6,0H6"]},
 "legend": {"orient": "none", "legendX": 348, "legendY": 56, "direction": "vertical", "title": null,
  "symbolSize": 420, "symbolStrokeWidth": 7, "symbolOffset": 40, "labelOffset": 733,
  "labelExpr": "''",
  "labelFont": "Liberation Sans", "labelFontSize": 41, "labelLimit": 2000, "labelColor": "#000000",
  "symbolStrokeColor": "#000000", "symbolFillColor": "#000000", "symbolOpacity": 1,
  "rowPadding": 6, "padding": 22, "fillColor": "#000000", "strokeColor": "#000000",
  "encode": {"legend": {"update": {"strokeWidth": {"value": 3}}}}}}
}
},
{
"mark": {"type": "line", "strokeWidth": 8},
"encoding": {
"x": {"field": "k", "type": "quantitative", "scale": {"type": "log", "domain": [6e9, 2e12]},
 "axis": {"orient": "bottom", "values": [6e9,7e9,8e9,9e9,1e10,2e10,3e10,4e10,5e10,6e10,7e10,8e10,9e10,1e11,2e11,3e11,4e11,5e11,6e11,7e11,8e11,9e11,1e12,2e12],
  "labelExpr": "abs(log(datum.value)/LN10 - round(log(datum.value)/LN10)) < 0.01 ? '10' : ''",
  "labelFont": "Liberation Sans", "labelFontSize": 50, "labelFontWeight": "bold", "labelColor": "#000000",
  "labelPadding": 33, "labelOffset": -17, "labelAlign": "center", "labelBaseline": "top",
  "labelOverlap": false, "labelFlush": false, "labelBound": false,
  "title": "k [m⁻¹]", "titleFont": "Liberation Sans", "titleFontSize": 60, "titleFontWeight": "bold", "titleColor": "#000000",
  "titleY": 201, "titleBaseline": "alphabetic",
  "grid": false, "domainColor": "#4d5866", "domainWidth": 1.5, "tickColor": "#4d5866", "tickWidth": 1.5, "tickSize": 0,
  "encode": {"ticks": {"update": {"y2": {"signal": "abs(log(datum.value)/LN10 - round(log(datum.value)/LN10)) < 0.01 ? -20 : -11"}}}}}},
"y": {"field": "W", "type": "quantitative", "scale": {"type": "log", "domain": [1e-34, 1e-29]},
 "axis": {"orient": "left", "values": [1e-34,2e-34,3e-34,4e-34,5e-34,6e-34,7e-34,8e-34,9e-34,1e-33,2e-33,3e-33,4e-33,5e-33,6e-33,7e-33,8e-33,9e-33,1e-32,2e-32,3e-32,4e-32,5e-32,6e-32,7e-32,8e-32,9e-32,1e-31,2e-31,3e-31,4e-31,5e-31,6e-31,7e-31,8e-31,9e-31,1e-30,2e-30,3e-30,4e-30,5e-30,6e-30,7e-30,8e-30,9e-30,1e-29],
  "labelExpr": "abs(log(datum.value)/LN10 - round(log(datum.value)/LN10)) < 0.01 ? '10' : ''",
  "labelFont": "Liberation Sans", "labelFontSize": 50, "labelFontWeight": "bold", "labelColor": "#000000",
  "labelPadding": 77, "labelAlign": "right", "labelBaseline": "middle",
  "labelOverlap": false, "labelFlush": false, "labelBound": false,
  "title": "W₁ [m³]", "titleFont": "Liberation Sans", "titleFontSize": 60, "titleFontWeight": "bold", "titleColor": "#000000",
  "titleX": -250, "titleY": 615, "titleAngle": 270, "titleAlign": "center", "titleBaseline": "alphabetic",
  "grid": false, "domainColor": "#4d5866", "domainWidth": 1.5, "tickColor": "#4d5866", "tickWidth": 1.5, "tickSize": 0,
  "encode": {"ticks": {"update": {"x2": {"signal": "abs(log(datum.value)/LN10 - round(log(datum.value)/LN10)) < 0.01 ? 20 : 11"}}}}}},
"color": {"field": "s", "type": "nominal",
 "scale": {"domain": ["ÉQUIPEMENT EN LABORATOIRE", "ÉQUIPEMENT EN BOITE à GANTS", "ÉQUIPEMENT EN SALLE BLANCHE"], "range": ["#000000", "#0000cd", "#ff0000"]},
 "legend": {"orient": "none", "legendX": 338, "legendY": 46, "direction": "vertical", "title": null,
  "symbolType": "M-6,0H6", "symbolSize": 420, "symbolStrokeWidth": 7, "symbolOffset": 40, "labelOffset": 52,
  "labelFont": "Liberation Sans", "labelFontSize": 41, "labelLimit": 2000,
  "rowPadding": 6, "padding": 22, "fillColor": "#ffffff", "strokeColor": "#000000",
  "encode": {"labels": {"update": {"fill": {"scale": "color", "field": "value"}}}, "legend": {"update": {"strokeWidth": {"value": 3}}}}}}
}
},
{
"data": {"values": [
{"s": "ÉQUIPEMENT EN SALLE BLANCHE", "k": 1.817e10, "W": 2.085e-31, "t": "Rq = 329 pm"},
{"s": "ÉQUIPEMENT EN BOITE à GANTS", "k": 1.826e10, "W": 6.32e-33, "t": "Rq = 52 pm"},
{"s": "ÉQUIPEMENT EN LABORATOIRE", "k": 1.959e10, "W": 1.13e-33, "t": "Rq = 42 pm"}
]},
"mark": {"type": "text", "font": "Open Sans", "fontWeight": "bold", "fontSize": 41, "align": "left", "baseline": "alphabetic"},
"encoding": {
"x": {"field": "k", "type": "quantitative", "scale": {"type": "log", "domain": [6e9, 2e12]},
 "axis": {"orient": "bottom", "values": [1e10, 1e11, 1e12], "labelExpr": "'' + round(log(datum.value)/LN10)",
  "labelFont": "Liberation Sans", "labelFontSize": 29, "labelFontWeight": "bold", "labelColor": "#000000",
  "labelPadding": 24, "labelOffset": 27, "labelAlign": "center", "labelBaseline": "top",
  "labelOverlap": false, "labelFlush": false, "labelBound": false,
  "ticks": false, "domain": false, "grid": false, "title": null}},
"y": {"field": "W", "type": "quantitative", "scale": {"type": "log", "domain": [1e-34, 1e-29]},
 "axis": {"orient": "left", "values": [1e-34, 1e-33, 1e-32, 1e-31, 1e-30, 1e-29], "labelExpr": "'' + round(log(datum.value)/LN10)",
  "labelFont": "Liberation Sans", "labelFontSize": 29, "labelFontWeight": "bold", "labelColor": "#000000",
  "labelPadding": 31, "labelOffset": -18, "labelAlign": "right", "labelBaseline": "middle",
  "labelOverlap": false, "labelFlush": false, "labelBound": false,
  "ticks": false, "domain": false, "grid": false, "title": null}},
"text": {"field": "t"},
"color": {"field": "s", "type": "nominal",
 "scale": {"domain": ["ÉQUIPEMENT EN LABORATOIRE", "ÉQUIPEMENT EN BOITE à GANTS", "ÉQUIPEMENT EN SALLE BLANCHE"], "range": ["#000000", "#0000cd", "#ff0000"]},
 "legend": null}
}
}
]
}
